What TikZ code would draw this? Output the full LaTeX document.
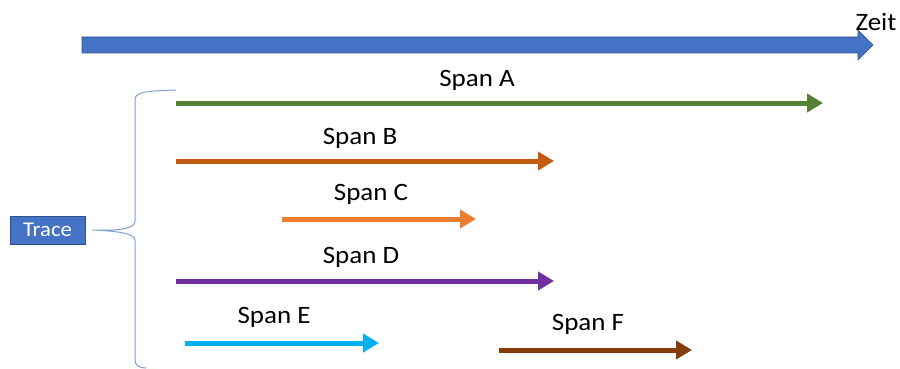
\documentclass[tikz,border=0pt]{standalone}
\usepackage{fontspec}
\setmainfont[FakeStretch=1.08]{Carlito}
\usetikzlibrary{arrows.meta}
\definecolor{timeblue}{HTML}{4472C4}
\definecolor{timeedge}{HTML}{2F528F}
\definecolor{braceblue}{HTML}{7F9FD4}
\definecolor{spanA}{HTML}{548235}
\definecolor{spanB}{HTML}{C55A11}
\definecolor{spanC}{HTML}{ED7D31}
\definecolor{spanD}{HTML}{7030A0}
\definecolor{spanE}{HTML}{00B0F0}
\definecolor{spanF}{HTML}{843C0C}
\begin{document}
\begin{tikzpicture}[x=1pt,y=-1pt,
  spanarrow/.style={line width=5pt, -{Triangle[length=16pt,width=18pt]}},
  lbl/.style={font=\fontsize{25}{30}\selectfont, inner sep=0pt, anchor=base},
  tracebox/.style={fill=timeblue, draw=timeedge, line width=0.8pt, text=white,
    minimum width=75pt, minimum height=28pt, inner sep=0pt,
    font=\fontsize{21}{25}\selectfont},
  bracestyle/.style={draw=braceblue, line width=1pt},
]
\useasboundingbox (0,0) rectangle (900,369);

% time axis as a block arrow
\coordinate (t0) at (82,45);
\coordinate (t1) at (873,45);
\fill[timeblue, draw=timeedge, line width=0.6pt]
  ([yshift=8pt]t0) -- ([xshift=-15pt,yshift=8pt]t1) -- ([xshift=-15pt,yshift=15pt]t1)
  -- (t1) -- ([xshift=-15pt,yshift=-15pt]t1) -- ([xshift=-15pt,yshift=-8pt]t1)
  -- ([yshift=-8pt]t0) -- cycle;
\node[lbl] (zeit) at (876,31) {Zeit};

% spans
\coordinate (a0) at (176,103); \coordinate (a1) at (823,103);
\coordinate (b0) at (176,161); \coordinate (b1) at (554,161);
\coordinate (c0) at (282,219); \coordinate (c1) at (476,219);
\coordinate (d0) at (176,281); \coordinate (d1) at (554,281);
\coordinate (e0) at (185,343); \coordinate (e1) at (379,343);
\coordinate (f0) at (499,350); \coordinate (f1) at (692,350);

\draw[spanarrow, spanA] (a0) -- (a1);
\draw[spanarrow, spanB] (b0) -- (b1);
\draw[spanarrow, spanC] (c0) -- (c1);
\draw[spanarrow, spanD] (d0) -- (d1);
\draw[spanarrow, spanE] (e0) -- (e1);
\draw[spanarrow, spanF] (f0) -- (f1);

\node[lbl] (la) at (477,86.5) {Span A};
\node[lbl] (lb) at (360,144.5) {Span B};
\node[lbl] (lc) at (371,200) {Span C};
\node[lbl] (ld) at (361,263) {Span D};
\node[lbl] (le) at (274,323) {Span E};
\node[lbl] (lf) at (588,330) {Span F};

% trace and its brace
\node[tracebox] (trace) at (47.5,230) {Trace};
\coordinate (tip) at ([xshift=7pt]trace.east);
\path[bracestyle]
  (tip) .. controls (115,231) and (135,229) .. (135,222) -- (135,100)
        .. controls (135,92) and (145,91) .. (176,90)
  (tip) .. controls (115,231) and (135,233) .. (135,240) -- (135,360)
        .. controls (135,366) and (140,368) .. (146,368);
\end{tikzpicture}
\end{document}
